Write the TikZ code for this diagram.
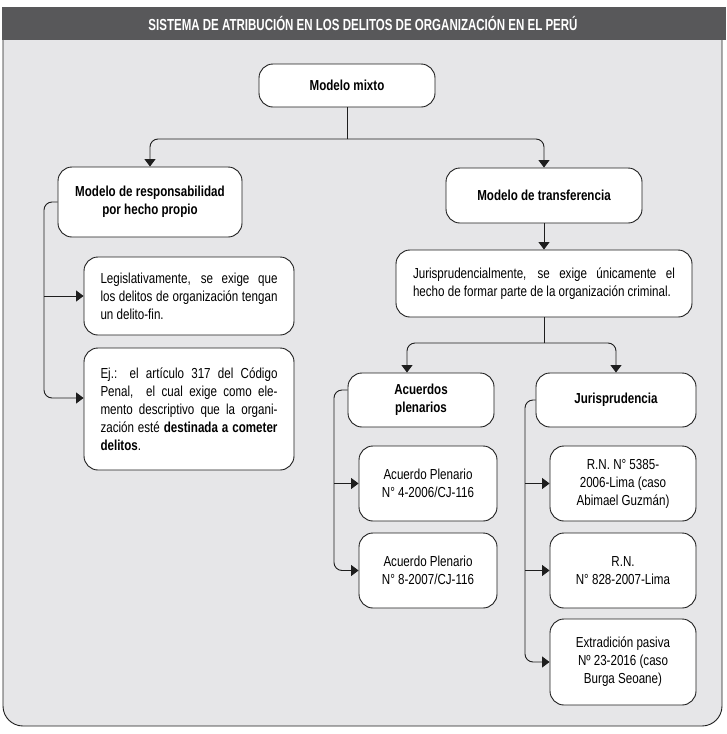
\documentclass[tikz,border=0pt]{standalone}
\usepackage{fontspec}
\setmainfont{Liberation Sans}[FakeStretch=0.80]
\newfontfamily\titlefont{Liberation Sans}[FakeStretch=0.72]
\usetikzlibrary{arrows.meta}
\definecolor{barc}{RGB}{88,88,90}
\definecolor{bgc}{RGB}{230,230,232}
\definecolor{lnc}{RGB}{30,30,30}
\begin{document}
\begin{tikzpicture}[x=1pt,y=-1pt,
  box/.style={draw=lnc, line width=0.9pt, fill=white, rounded corners=14pt, inner sep=0pt,
    font=\fontsize{14.5}{18}\selectfont, text=black},
  bbox/.style={box, font=\fontsize{14.5}{18}\selectfont\bfseries, align=center},
  tbox/.style={box, align=center},
  conn/.style={draw=lnc, line width=0.9pt, rounded corners=8pt},
  arr/.style={conn, -{Triangle[width=11pt,length=7.5pt]}},
]
\useasboundingbox (0,0) rectangle (726,734);
\fill[white] (0,0) rectangle (726,734);
\fill[bgc, rounded corners=20pt] (3,18) |- (722,726) -- (722,18) -- cycle;
\draw[lnc, line width=0.9pt, rounded corners=20pt] (3,40) |- (722,726) -- (722,40);
\fill[barc] (2,7) rectangle (726,40);
\node[text=white, font=\titlefont\fontsize{16}{18}\selectfont\bfseries, inner sep=0pt] (title) at (363,23.5)
  {SISTEMA DE ATRIBUCIÓN EN LOS DELITOS DE ORGANIZACIÓN EN EL PERÚ};

% nodes
\node[bbox, minimum width=176pt, minimum height=43pt] (mixto) at (347,85.5) {Modelo mixto};
\node[bbox, minimum width=184pt, minimum height=70pt] (resp) at (150,202) {Modelo de responsabilidad\\por hecho propio};
\node[bbox, minimum width=196pt, minimum height=55pt] (transf) at (544,195.5) {Modelo de transferencia};
\node[box, minimum width=210pt, minimum height=78pt, text width=177pt, align=justify] (legis) at (189,296)
  {Legislativamente, se exige que\linebreak los delitos de organización tengan\linebreak un delito-fin.};
\node[box, minimum width=210pt, minimum height=122pt, text width=177pt, align=justify] (ej) at (189,409)
  {Ej.: el artículo 317 del Código\linebreak Penal,\ \ el cual exige como ele-\linebreak mento descriptivo que la organi-\linebreak zación esté \textbf{destinada a cometer}\linebreak \textbf{delitos}.};
\node[box, minimum width=296pt, minimum height=67pt, text width=262pt, align=justify] (juris) at (544,283.5)
  {Jurisprudencialmente, se exige únicamente el\linebreak hecho de formar parte de la organización criminal.};
\node[bbox, minimum width=146pt, minimum height=54pt] (acuerdos) at (421,400) {Acuerdos\\plenarios};
\node[bbox, minimum width=160pt, minimum height=54pt] (jurisp) at (616,400) {Jurisprudencia};
\node[tbox, minimum width=138pt, minimum height=75pt] (ap4) at (428,483.5) {Acuerdo Plenario\\N° 4-2006/CJ-116};
\node[tbox, minimum width=138pt, minimum height=75pt] (ap8) at (428,570.5) {Acuerdo Plenario\\N° 8-2007/CJ-116};
\node[tbox, minimum width=146pt, minimum height=75pt] (rn1) at (623,483.5) {R.N. N° 5385-\\2006-Lima (caso\\Abimael Guzmán)};
\node[tbox, minimum width=146pt, minimum height=75pt] (rn2) at (623,570.5) {R.N.\\N° 828-2007-Lima};
\node[tbox, minimum width=146pt, minimum height=86pt] (extra) at (623,662) {Extradición pasiva\\Nº 23-2016 (caso\\Burga Seoane)};

% connectors
\coordinate (j1) at (347,139);
\draw[conn] (mixto.south) -- (j1);
\draw[arr] (j1) -| (resp.north);
\draw[arr] (j1) -| (transf.north);
\draw[arr] (transf.south) -- (juris.north);
\coordinate (j2) at (544,343);
\draw[conn] (juris.south) -- (j2);
\coordinate (aN) at ([xshift=-14pt]acuerdos.north);
\draw[arr] (j2) -| (aN);
\draw[arr] (j2) -| (jurisp.north);

\coordinate (lx) at (44,0);
\coordinate (ejin) at ([yshift=11pt]ej.west);
\draw[arr] (resp.west) -- (resp.west -| lx) |- (ejin);
\draw[arr] (legis.west -| lx) -- (legis.west);

\coordinate (ax) at (334,0);
\coordinate (aW) at ([yshift=10pt]acuerdos.west);
\draw[arr] (aW) -- (aW -| ax) |- (ap8.west);
\draw[arr] (ap4.west -| ax) -- (ap4.west);

\coordinate (jx) at (525,0);
\draw[arr] (jurisp.west) -- (jurisp.west -| jx) |- (extra.west);
\draw[arr] (rn1.west -| jx) -- (rn1.west);
\draw[arr] (rn2.west -| jx) -- (rn2.west);
\end{tikzpicture}
\end{document}
